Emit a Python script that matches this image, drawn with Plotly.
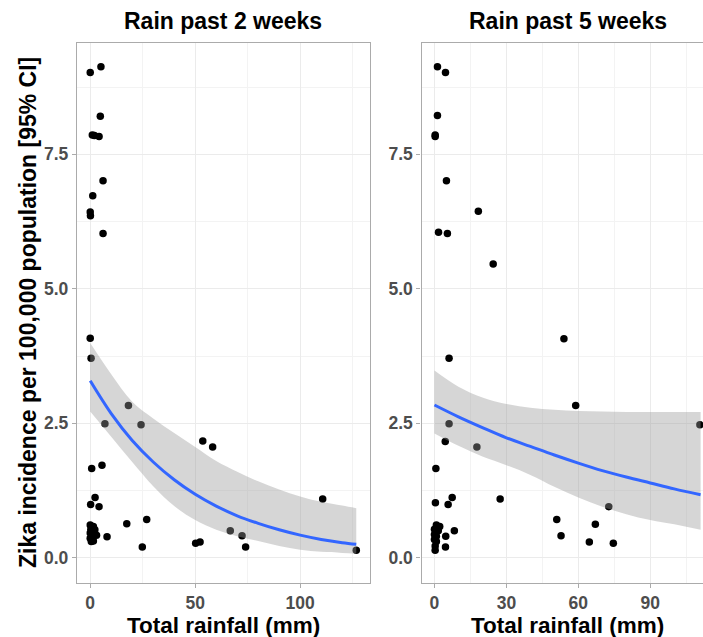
import plotly.graph_objects as go

# ---- Observations: rainfall (mm) vs Zika incidence per 100,000 ----
rain2_mm = [0.0, 5.1, 4.8, 1.0, 2.0, 4.2, 6.1, 1.2, 0.0, 0.1, 6.1,
            0.0, 0.4, 18.2, 7.0, 24.2, 53.6, 58.3, 0.7, 5.6, 2.3, 0.2, 4.2,
            17.4, 26.9, 8.0, 24.8, 50.2, 52.3, 66.7, 72.3, 74.0, 110.7, 126.7,
            0.0, 1.5, 0.3, 2.2, 0.0, 2.0, 0.8, 3.0, 0.0, 1.5, 0.5]
incid2 = [9.02, 9.13, 8.21, 7.86, 7.85, 7.83, 7.01, 6.73, 6.43, 6.36, 6.03,
          4.08, 3.71, 2.83, 2.49, 2.47, 2.17, 2.06, 1.66, 1.72, 1.12, 0.99, 0.95,
          0.63, 0.71, 0.39, 0.20, 0.27, 0.29, 0.50, 0.41, 0.20, 1.09, 0.14,
          0.61, 0.58, 0.53, 0.52, 0.46, 0.44, 0.40, 0.42, 0.36, 0.31, 0.30]

rain5_mm = [1.25, 4.6, 1.25, 0.3, 0.3, 5.0, 18.3, 1.7, 5.4, 24.5,
            54.0, 6.1, 58.9, 6.1, 110.7, 4.5, 17.7, 0.6, 7.4, 0.4, 5.7, 27.4,
            72.7, 51.0, 67.1, 8.3, 52.8, 4.7, 64.6, 74.6, 4.6,
            0.8, 2.2, 0.0, 1.6, 0.0, 0.8, 0.0, 0.8, 0.3, 0.3]
incid5 = [9.13, 9.02, 8.22, 7.86, 7.83, 7.01, 6.44, 6.05, 6.03, 5.46,
          4.07, 3.71, 2.83, 2.49, 2.47, 2.16, 2.06, 1.66, 1.12, 1.02, 0.99, 1.09,
          0.95, 0.71, 0.62, 0.50, 0.41, 0.40, 0.29, 0.27, 0.20,
          0.61, 0.58, 0.53, 0.50, 0.43, 0.40, 0.34, 0.30, 0.22, 0.14]

# ---- Fitted trend with 95% CI band ----
fit2_x = [0, 10, 20, 30, 40, 50, 60, 70, 80, 90, 100, 110, 120, 126.7]
fit2_y = [3.29, 2.68, 2.18, 1.78, 1.45, 1.18, 0.96, 0.78, 0.64, 0.52, 0.42, 0.34, 0.28, 0.25]
fit2_hi = [3.99, 3.41, 2.90, 2.59, 2.32, 2.06, 1.80, 1.60, 1.42, 1.27, 1.14, 1.04, 0.97, 0.92]
fit2_lo = [2.72, 2.25, 1.78, 1.33, 0.96, 0.70, 0.52, 0.40, 0.31, 0.22, 0.15, 0.11, 0.09, 0.08]

fit5_x = [0, 10, 20, 30, 40, 50, 60, 70, 80, 90, 100, 111]
fit5_y = [2.84, 2.62, 2.42, 2.23, 2.07, 1.91, 1.76, 1.62, 1.50, 1.39, 1.28, 1.17]
fit5_hi = [3.48, 3.18, 2.98, 2.86, 2.79, 2.75, 2.73, 2.72, 2.71, 2.71, 2.71, 2.71]
fit5_lo = [2.31, 2.08, 1.88, 1.72, 1.54, 1.32, 1.12, 0.95, 0.81, 0.70, 0.62, 0.52]

panel_titles = ["Rain past 2 weeks", "Rain past 5 weeks"]
x_title = "Total rainfall (mm)"
y_title = "Zika incidence per 100,000 population [95% CI]"

W, H = 703, 637
FONT = "Liberation Sans, Arial, Helvetica, sans-serif"
BORDER = "#ABABAB"
TICKCOL = "#4D4D4D"

fig = go.Figure()


def add_panel(xs, ys, fx, fy, fhi, flo, xa, ya):
    # points first so the translucent band sits on top of them
    fig.add_trace(go.Scatter(x=xs, y=ys, mode="markers", xaxis=xa, yaxis=ya,
                             marker=dict(color="black", size=7.5, line=dict(width=0)),
                             showlegend=False, hoverinfo="skip", cliponaxis=True))
    fig.add_trace(go.Scatter(x=fx, y=flo, mode="lines", xaxis=xa, yaxis=ya,
                             line=dict(width=0, shape="spline", color="rgba(0,0,0,0)"),
                             showlegend=False, hoverinfo="skip"))
    fig.add_trace(go.Scatter(x=fx, y=fhi, mode="lines", xaxis=xa, yaxis=ya,
                             line=dict(width=0, shape="spline", color="rgba(0,0,0,0)"),
                             fill="tonexty", fillcolor="rgba(153,153,153,0.4)",
                             showlegend=False, hoverinfo="skip"))
    fig.add_trace(go.Scatter(x=fx, y=fy, mode="lines", xaxis=xa, yaxis=ya,
                             line=dict(width=3, color="#3366FF", shape="spline"),
                             showlegend=False, hoverinfo="skip"))


add_panel(rain2_mm, incid2, fit2_x, fit2_y, fit2_hi, fit2_lo, "x", "y")
add_panel(rain5_mm, incid5, fit5_x, fit5_y, fit5_hi, fit5_lo, "x2", "y2")

# panel geometry in pixels
L1, R1 = 77, 369.5
L2, R2 = 421.5, 703
TOP, BOT = 43, 583
ydom = [1 - BOT / H, 1 - TOP / H]

common_axis = dict(
    showgrid=True, gridcolor="#EBEBEB", gridwidth=1.2,
    zeroline=False, showline=True, linecolor=BORDER, linewidth=1.3,
    ticks="outside", ticklen=4, tickwidth=1.3, tickcolor=BORDER,
    tickfont=dict(family=FONT, size=17.5, color=TICKCOL, weight="bold"),
)

yaxis_common = dict(common_axis, range=[-0.47, 9.57], tick0=0, dtick=2.5,
                    tickformat=".1f", domain=ydom,
                    minor=dict(showgrid=True, gridcolor="#F3F3F3", gridwidth=0.7,
                               dtick=1.25, tick0=0))

fig.update_layout(
    width=W, height=H, autosize=False,
    margin=dict(l=0, r=0, t=0, b=0),
    paper_bgcolor="white", plot_bgcolor="white",
    xaxis=dict(common_axis, domain=[L1 / W, R1 / W], range=[-6.3, 133.0],
               tick0=0, dtick=50, mirror=True, anchor="y",
               minor=dict(showgrid=True, gridcolor="#F3F3F3", gridwidth=0.7,
                          dtick=25, tick0=0)),
    yaxis=dict(yaxis_common, mirror=True, anchor="x"),
    xaxis2=dict(common_axis, domain=[L2 / W, R2 / W], range=[-5.4, 112.0],
                tick0=0, dtick=30, mirror=True, anchor="y2",
                minor=dict(showgrid=True, gridcolor="#F3F3F3", gridwidth=0.7,
                           dtick=15, tick0=0)),
    yaxis2=dict(yaxis_common, mirror=False, anchor="x2"),
)

title_font = dict(family=FONT, size=23, color="black", weight="bold")
axis_title_font = dict(family=FONT, size=22.5, color="black", weight="bold")

# strip titles
for (l, r), txt in zip([(L1, R1), (L2, 714)], panel_titles):
    fig.add_annotation(text=txt, xref="paper", yref="paper",
                       x=(l + r) / 2 / W, y=1 - 21 / H,
                       xanchor="center", yanchor="middle",
                       showarrow=False, font=title_font)

# x-axis titles
for (l, r) in [(L1, R1), (L2, 714)]:
    fig.add_annotation(text=x_title, xref="paper", yref="paper",
                       x=(l + r) / 2 / W, y=1 - 625 / H,
                       xanchor="center", yanchor="middle",
                       showarrow=False, font=axis_title_font)

# y-axis title
fig.add_annotation(text=y_title, xref="paper", yref="paper",
                   x=28 / W, y=1 - 313 / H, textangle=-90,
                   xanchor="center", yanchor="middle",
                   showarrow=False, font=title_font)

fig.write_html("out.html")
